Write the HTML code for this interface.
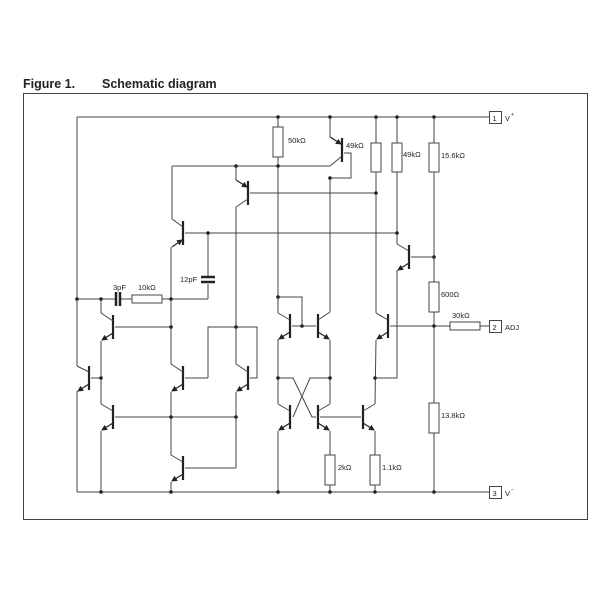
<!DOCTYPE html>
<html><head><meta charset="utf-8"><style>
html,body{margin:0;padding:0;background:#fff;}
svg{display:block;}
text{font-family:"Liberation Sans",Arial,sans-serif;fill:#222;}
</style></head><body>
<svg width="600" height="600" viewBox="0 0 600 600" xmlns="http://www.w3.org/2000/svg">
<defs>
<marker id="ar" markerWidth="6" markerHeight="6" refX="5" refY="3" orient="auto" markerUnits="userSpaceOnUse"><path d="M0,0 L6,3 L0,6 z" fill="#222"/></marker>
</defs>
<text x="23" y="88" font-size="12.5" font-weight="bold">Figure 1.</text>
<text x="102" y="88" font-size="12.5" font-weight="bold">Schematic diagram</text>
<rect x="23.5" y="93.5" width="564" height="426" fill="none" stroke="#444" stroke-width="1"/>

<g stroke="#444" stroke-width="1" fill="none">
<!-- rails -->
<line x1="77" y1="117" x2="489" y2="117"/>
<line x1="77" y1="492" x2="489" y2="492"/>
<line x1="77" y1="117" x2="77" y2="366"/>
<line x1="77" y1="391" x2="77" y2="492"/>
<!-- y=299 wire -->
<line x1="77" y1="299" x2="115" y2="299"/>
<line x1="120" y1="299" x2="132" y2="299"/>
<line x1="162" y1="299" x2="208" y2="299"/>
<line x1="208" y1="299" x2="208" y2="284"/>
<line x1="208" y1="277" x2="208" y2="233"/>
<rect x="132" y="295" width="30" height="8" fill="#fff"/>
<!-- x=101 -->
<line x1="101" y1="299" x2="101" y2="313"/>
<line x1="101" y1="341" x2="101" y2="404"/>
<line x1="101" y1="431" x2="101" y2="492"/>
<line x1="101" y1="378" x2="93" y2="378"/>
<!-- x=171 -->
<line x1="172" y1="166" x2="172" y2="219"/>
<line x1="171" y1="247" x2="171" y2="364"/>
<line x1="171" y1="392" x2="171" y2="455"/>
<line x1="171" y1="482" x2="171" y2="492"/>
<line x1="172" y1="166" x2="330" y2="166"/>
<!-- T2 base -->
<line x1="115" y1="327" x2="171" y2="327"/>
<!-- T3 base line -->
<line x1="115" y1="417" x2="236" y2="417"/>
<!-- T4 base loop -->
<line x1="185" y1="378" x2="208" y2="378"/>
<polyline points="208,378 208,327 257,327 257,378 250,378"/>
<!-- x=236 -->
<line x1="236" y1="166" x2="236" y2="180"/>
<line x1="236" y1="207" x2="236" y2="364"/>
<line x1="236" y1="392" x2="236" y2="468"/>
<line x1="236" y1="468" x2="185" y2="468"/>
<!-- T7 base and T8 base lines -->
<line x1="185" y1="233" x2="397" y2="233"/>
<line x1="250" y1="193" x2="376" y2="193"/>
<!-- x=278 -->
<line x1="278" y1="117" x2="278" y2="127"/>
<rect x="273" y="127" width="10" height="30" fill="#fff"/>
<line x1="278" y1="157" x2="278" y2="313"/>
<polyline points="278,297 302,297 302,326"/>
<line x1="292" y1="326" x2="316" y2="326"/>
<line x1="278" y1="339" x2="278" y2="404"/>
<line x1="278" y1="431" x2="278" y2="492"/>
<!-- x=330 -->
<line x1="330" y1="117" x2="330" y2="137"/>
<line x1="330" y1="178" x2="330" y2="312"/>
<polyline points="344,153 351,153 351,178 330,178"/>
<line x1="330" y1="340" x2="330" y2="404"/>
<line x1="330" y1="431" x2="330" y2="455"/>
<rect x="325" y="455" width="10" height="30" fill="#fff"/>
<line x1="330" y1="485" x2="330" y2="492"/>
<!-- cross -->
<polyline points="278,378 293,378 312,417 316,417"/>
<polyline points="330,378 310,378 293,417"/>
<line x1="320" y1="417" x2="361" y2="417"/>
<!-- x=376 -->
<line x1="376" y1="117" x2="376" y2="143"/>
<rect x="371" y="143" width="10" height="29" fill="#fff"/>
<line x1="376" y1="172" x2="376" y2="313"/>
<line x1="376" y1="340" x2="375" y2="404"/>
<line x1="375" y1="431" x2="375" y2="455"/>
<rect x="370" y="455" width="10" height="30" fill="#fff"/>
<line x1="375" y1="485" x2="375" y2="492"/>
<!-- x=397 -->
<line x1="397" y1="117" x2="397" y2="143"/>
<rect x="392" y="143" width="10" height="29" fill="#fff"/>
<line x1="397" y1="172" x2="397" y2="244"/>
<polyline points="397,270 397,378 375,378"/>
<line x1="390" y1="326" x2="489" y2="326"/>
<rect x="450" y="322" width="30" height="8" fill="#fff"/>
<!-- x=434 -->
<line x1="434" y1="117" x2="434" y2="143"/>
<rect x="429" y="143" width="10" height="29" fill="#fff"/>
<line x1="434" y1="172" x2="434" y2="282"/>
<line x1="411" y1="257" x2="434" y2="257"/>
<rect x="429" y="282" width="10" height="30" fill="#fff"/>
<line x1="434" y1="312" x2="434" y2="403"/>
<rect x="429" y="403" width="10" height="30" fill="#fff"/>
<line x1="434" y1="433" x2="434" y2="492"/>
<!-- pin boxes -->
<rect x="489.5" y="111.5" width="12" height="12" fill="#fff"/>
<rect x="489.5" y="320.5" width="12" height="12" fill="#fff"/>
<rect x="489.5" y="486.5" width="12" height="12" fill="#fff"/>
</g>

<!-- capacitors -->
<g stroke="#222" stroke-width="2.5">
<line x1="116" y1="292" x2="116" y2="306"/>
<line x1="120" y1="292" x2="120" y2="306"/>
<line x1="201" y1="277" x2="215" y2="277"/>
<line x1="201" y1="282" x2="215" y2="282"/>
</g>

<!-- transistors: bars -->
<g stroke="#222" stroke-width="2.2">
<line x1="89" y1="366" x2="89" y2="390"/>
<line x1="113" y1="315" x2="113" y2="339"/>
<line x1="113" y1="405" x2="113" y2="429"/>
<line x1="183" y1="366" x2="183" y2="390"/>
<line x1="248" y1="366" x2="248" y2="390"/>
<line x1="183" y1="456" x2="183" y2="480"/>
<line x1="183" y1="221" x2="183" y2="245"/>
<line x1="248" y1="181" x2="248" y2="205"/>
<line x1="290" y1="314" x2="290" y2="338"/>
<line x1="318" y1="314" x2="318" y2="338"/>
<line x1="342" y1="138" x2="342" y2="162"/>
<line x1="388" y1="314" x2="388" y2="338"/>
<line x1="409" y1="245" x2="409" y2="269"/>
<line x1="290" y1="405" x2="290" y2="429"/>
<line x1="318" y1="405" x2="318" y2="429"/>
<line x1="363" y1="405" x2="363" y2="429"/>
</g>
<!-- legs -->
<g stroke="#444" stroke-width="1">
<!-- T1 -->
<line x1="89" y1="372" x2="77" y2="366"/>
<!-- T2 -->
<line x1="113" y1="321" x2="101" y2="313"/>
<line x1="113" y1="411" x2="101" y2="404"/>
<line x1="183" y1="372" x2="171" y2="364"/>
<line x1="248" y1="372" x2="236" y2="364"/>
<line x1="183" y1="462" x2="171" y2="455"/>
<line x1="183" y1="227" x2="172" y2="219"/>
<line x1="248" y1="199" x2="236" y2="207"/>
<line x1="290" y1="320" x2="278" y2="313"/>
<line x1="318" y1="320" x2="330" y2="312"/>
<line x1="342" y1="156" x2="330" y2="166"/>
<line x1="388" y1="320" x2="376" y2="313"/>
<line x1="409" y1="251" x2="397" y2="244"/>
<line x1="290" y1="411" x2="278" y2="404"/>
<line x1="318" y1="411" x2="330" y2="404"/>
<line x1="363" y1="411" x2="375" y2="404"/>
<line x1="91" y1="378" x2="93" y2="378"/>
</g>
<!-- emitters with arrows -->
<g stroke="#222" stroke-width="1.2" marker-end="url(#ar)">
<line x1="89" y1="384" x2="78" y2="391"/>
<line x1="113" y1="333" x2="102" y2="340"/>
<line x1="113" y1="423" x2="102" y2="430"/>
<line x1="183" y1="384" x2="172" y2="391"/>
<line x1="248" y1="384" x2="237" y2="391"/>
<line x1="183" y1="474" x2="172" y2="481"/>
<line x1="172" y1="247" x2="182" y2="240"/>
<line x1="236" y1="180" x2="247" y2="187"/>
<line x1="290" y1="332" x2="279" y2="339"/>
<line x1="318" y1="332" x2="329" y2="339"/>
<line x1="330" y1="137" x2="341" y2="144"/>
<line x1="388" y1="332" x2="377" y2="339"/>
<line x1="409" y1="263" x2="398" y2="270"/>
<line x1="290" y1="423" x2="279" y2="430"/>
<line x1="318" y1="423" x2="329" y2="430"/>
<line x1="363" y1="423" x2="374" y2="430"/>
</g>

<!-- junction dots -->
<g fill="#222">
<circle cx="77" cy="299" r="1.8"/><circle cx="101" cy="299" r="1.8"/><circle cx="171" cy="299" r="1.8"/>
<circle cx="208" cy="233" r="1.8"/><circle cx="101" cy="378" r="1.8"/><circle cx="101" cy="492" r="1.8"/>
<circle cx="171" cy="327" r="1.8"/><circle cx="171" cy="417" r="1.8"/><circle cx="171" cy="492" r="1.8"/>
<circle cx="236" cy="327" r="1.8"/><circle cx="236" cy="417" r="1.8"/><circle cx="236" cy="166" r="1.8"/>
<circle cx="278" cy="117" r="1.8"/><circle cx="278" cy="166" r="1.8"/><circle cx="278" cy="297" r="1.8"/>
<circle cx="302" cy="326" r="1.8"/><circle cx="278" cy="378" r="1.8"/><circle cx="330" cy="378" r="1.8"/>
<circle cx="278" cy="492" r="1.8"/><circle cx="330" cy="492" r="1.8"/><circle cx="375" cy="492" r="1.8"/>
<circle cx="434" cy="492" r="1.8"/><circle cx="330" cy="117" r="1.8"/><circle cx="330" cy="178" r="1.8"/>
<circle cx="376" cy="117" r="1.8"/><circle cx="397" cy="117" r="1.8"/><circle cx="434" cy="117" r="1.8"/>
<circle cx="376" cy="193" r="1.8"/><circle cx="397" cy="233" r="1.8"/><circle cx="434" cy="257" r="1.8"/>
<circle cx="434" cy="326" r="1.8"/><circle cx="375" cy="378" r="1.8"/>
</g>

<!-- labels -->
<g font-size="7.5">
<text x="113" y="290">3pF</text>
<text x="138" y="290">10kΩ</text>
<text x="180" y="282">12pF</text>
<text x="288" y="143">50kΩ</text>
<text x="346" y="148">49kΩ</text>
<text x="403" y="157">49kΩ</text>
<text x="441" y="158">15.6kΩ</text>
<text x="441" y="297">600Ω</text>
<text x="452" y="318">30kΩ</text>
<text x="441" y="418">13.8kΩ</text>
<text x="338" y="470">2kΩ</text>
<text x="382" y="470">1.1kΩ</text>
<text x="492.5" y="121">1</text>
<text x="492.5" y="330">2</text>
<text x="492.5" y="496">3</text>
<text x="505" y="121">V</text><text x="511" y="116" font-size="5">+</text>
<text x="505" y="330">ADJ</text>
<text x="505" y="496">V</text><text x="511" y="491" font-size="5">−</text>
</g>
</svg>
</body></html>
